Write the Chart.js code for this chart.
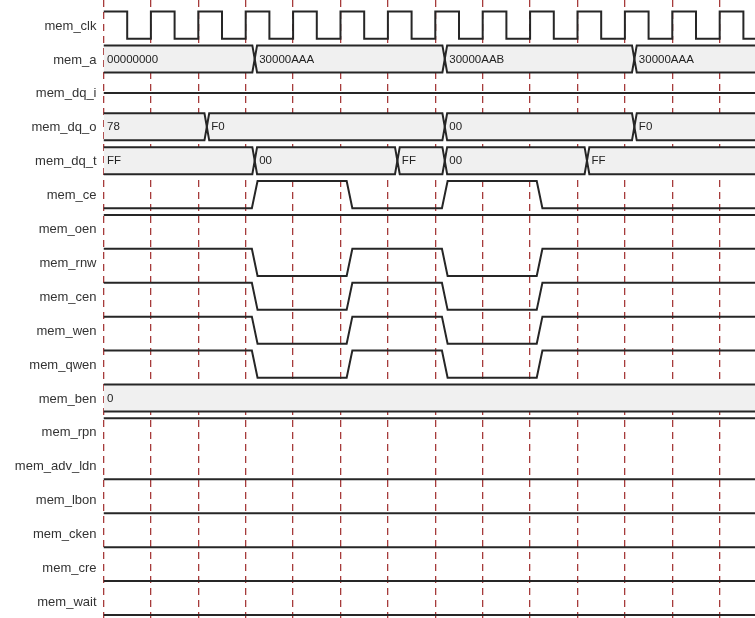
<!DOCTYPE html>
<html><head><meta charset="utf-8">
<script src="https://cdn.jsdelivr.net/npm/chart.js@4/dist/chart.umd.min.js"></script>
<style>html,body{margin:0;padding:0;background:#fff}#wrap{width:755px;height:618px;position:relative}</style>
</head><body><div id="wrap"><canvas id="c"></canvas></div>
<script>
// ---- data (time in clock cycles) ----
const SIGNALS = ['mem_clk','mem_a','mem_dq_i','mem_dq_o','mem_dq_t','mem_ce','mem_oen','mem_rnw','mem_cen','mem_wen','mem_qwen','mem_ben','mem_rpn','mem_adv_ldn','mem_lbon','mem_cken','mem_cre','mem_wait'];
const T_END = 13.745;
const GRID_STEP = 1;

const CLK_TIMES  = [0,0.5,1,1.5,2,2.5,3,3.5,4,4.5,5,5.5,6,6.5,7,7.5,8,8.5,9,9.5,10,10.5,11,11.5,12,12.5,13,13.5];
const CLK_LEVELS = [1,0,1,0,1,0,1,0,1,0,1,0,1,0,1,0,1,0,1,0,1,0,1,0,1,0,1,0];

// bus signals: [change time, value text]
const MEM_A    = [[0,'00000000'],[3.19,'30000AAA'],[7.2,'30000AAB'],[11.2,'30000AAA']];
const MEM_DQ_O = [[0,'78'],[2.18,'F0'],[7.2,'00'],[11.2,'F0']];
const MEM_DQ_T = [[0,'FF'],[3.19,'00'],[6.2,'FF'],[7.2,'00'],[10.2,'FF']];
const MEM_BEN  = [[0,'0']];
// high impedance (mid-level) signal
const MEM_DQ_I = [[0,'Z']];

// single-bit signals: [change time, level]
const MEM_CE   = [[0,0],[3.19,1],[5.19,0],[7.2,1],[9.2,0]];
const MEM_OEN  = [[0,1]];
const MEM_RNW  = [[0,1],[3.19,0],[5.19,1],[7.2,0],[9.2,1]];
const MEM_CEN  = [[0,1],[3.19,0],[5.19,1],[7.2,0],[9.2,1]];
const MEM_WEN  = [[0,1],[3.19,0],[5.19,1],[7.2,0],[9.2,1]];
const MEM_QWEN = [[0,1],[3.19,0],[5.19,1],[7.2,0],[9.2,1]];
const MEM_RPN  = [[0,1]];
const MEM_ADV_LDN = [[0,0]];
const MEM_LBON = [[0,0]];
const MEM_CKEN = [[0,0]];
const MEM_CRE  = [[0,0]];
const MEM_WAIT = [[0,0]];

// ---- styling constants ----
const HI = 0, LO = 0.8, MID = 0.4, EDGE = 0.06, BUS_EDGE = 0.05, LABEL_POS = 0.43;
const LINE = '#262626', FILL = '#f0f0f0';
const FONT = '"Liberation Sans", Arial, Helvetica, sans-serif';

const BUSES = [['mem_a',MEM_A],['mem_dq_o',MEM_DQ_O],['mem_dq_t',MEM_DQ_T],['mem_ben',MEM_BEN]];
const DIGITALS = [['mem_ce',MEM_CE],['mem_oen',MEM_OEN],['mem_rnw',MEM_RNW],['mem_cen',MEM_CEN],['mem_wen',MEM_WEN],['mem_qwen',MEM_QWEN],['mem_rpn',MEM_RPN],['mem_adv_ldn',MEM_ADV_LDN],['mem_lbon',MEM_LBON],['mem_cken',MEM_CKEN],['mem_cre',MEM_CRE],['mem_wait',MEM_WAIT]];

const rowOf = n => SIGNALS.indexOf(n);
const lvl = (row, v) => row + (v ? HI : LO);

function clockPoints(row){
  const pts = [];
  for (let i = 0; i < CLK_TIMES.length; i++){
    const y = lvl(row, CLK_LEVELS[i]);
    const tn = i + 1 < CLK_TIMES.length ? CLK_TIMES[i+1] : T_END;
    pts.push({x: CLK_TIMES[i], y}, {x: tn, y});
  }
  return pts;
}
function digitalPoints(row, ch){
  const pts = [{x: ch[0][0], y: lvl(row, ch[0][1])}];
  for (let i = 1; i < ch.length; i++){
    const t = ch[i][0];
    pts.push({x: t - EDGE, y: lvl(row, ch[i-1][1])}, {x: t + EDGE, y: lvl(row, ch[i][1])});
  }
  pts.push({x: T_END, y: lvl(row, ch[ch.length-1][1])});
  return pts;
}
function busPoints(row, segs, off){
  const pts = [{x: segs[0][0], y: row + off}];
  for (let i = 1; i < segs.length; i++){
    const t = segs[i][0];
    pts.push({x: t - BUS_EDGE, y: row + off}, {x: t, y: row + MID}, {x: t + BUS_EDGE, y: row + off});
  }
  pts.push({x: T_END, y: row + off});
  return pts;
}

const base = {borderColor: LINE, borderWidth: 2, pointRadius: 0, tension: 0, fill: false, borderJoinStyle: 'miter'};
const datasets = [];
datasets.push({...base, label: 'mem_clk', data: clockPoints(rowOf('mem_clk'))});
BUSES.forEach(([n, segs]) => {
  const r = rowOf(n);
  datasets.push({...base, label: n + '_top', data: busPoints(r, segs, HI), fill: '+1', backgroundColor: FILL});
  datasets.push({...base, label: n + '_bot', data: busPoints(r, segs, LO)});
});
datasets.push({...base, label: 'mem_dq_i', data: [{x: MEM_DQ_I[0][0], y: rowOf('mem_dq_i') + MID}, {x: T_END, y: rowOf('mem_dq_i') + MID}]});
DIGITALS.forEach(([n, ch]) => datasets.push({...base, label: n, data: digitalPoints(rowOf(n), ch)}));

const busText = {
  id: 'busText',
  afterDatasetsDraw(chart){
    const {ctx, chartArea: a, scales: {x, y}} = chart;
    ctx.save();
    ctx.beginPath(); ctx.rect(a.left, a.top, a.right - a.left, a.bottom - a.top); ctx.clip();
    ctx.font = '11.5px ' + FONT;
    ctx.fillStyle = '#222';
    ctx.textBaseline = 'middle';
    ctx.textAlign = 'left';
    BUSES.forEach(([n, segs]) => {
      const r = rowOf(n);
      segs.forEach(([t, txt]) => {
        ctx.fillText(txt, x.getPixelForValue(t) + (t === 0 ? 3.5 : 4.5), y.getPixelForValue(r + MID) + 0.5);
      });
    });
    ctx.restore();
  }
};

new Chart(document.getElementById('c'), {
  type: 'line',
  data: {datasets},
  plugins: [busText],
  options: {
    responsive: true, maintainAspectRatio: false, animation: false, events: [],
    layout: {padding: 0},
    plugins: {legend: {display: false}, tooltip: {enabled: false}, filler: {drawTime: 'beforeDatasetsDraw'}},
    scales: {
      x: {
        type: 'linear', min: 0, max: T_END,
        ticks: {display: false, stepSize: GRID_STEP, includeBounds: false},
        grid: {color: 'rgba(150,25,25,0.85)', lineWidth: 1.3, drawTicks: false},
        border: {display: false, dash: [7, 5]},
        afterFit(s){ s.height = 0; }
      },
      y: {
        type: 'linear', reverse: true, min: -0.34, max: 17.89,
        grid: {display: false, drawTicks: false},
        border: {display: false},
        ticks: {
          autoSkip: false, padding: 7, color: '#333',
          font: {family: FONT, size: 13},
          callback: (v, i) => SIGNALS[i]
        },
        afterBuildTicks(s){ s.ticks = SIGNALS.map((_, i) => ({value: i + LABEL_POS})); },
        afterFit(s){ s.width = 103.5; s.paddingTop = 0; s.paddingBottom = 0; }
      }
    }
  }
});
</script>
</body></html>
